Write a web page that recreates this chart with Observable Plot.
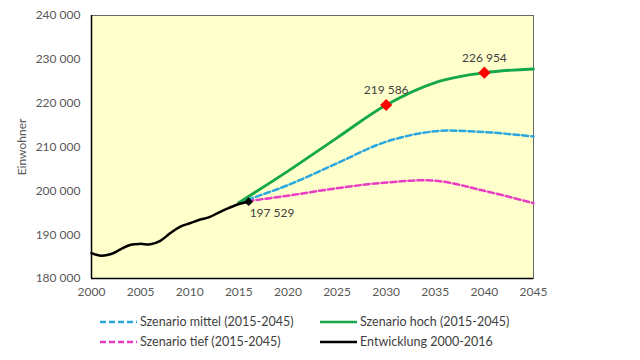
<!DOCTYPE html>
<html><head><meta charset="utf-8">
<script src="https://cdn.jsdelivr.net/npm/d3@7"></script>
<script src="https://cdn.jsdelivr.net/npm/@observablehq/plot@0.6"></script>
<style>
body{margin:0;background:#fff;font-family:Lato,"Open Sans",sans-serif;}
#wrap{position:relative;width:640px;height:360px;}
#legend{position:absolute;left:0;top:310px;width:640px;font-size:12.5px;color:#404040;}
.item{position:absolute;display:flex;align-items:center;white-space:nowrap;}
.item svg{margin-right:3px;}
</style></head><body>
<div id="wrap"><div id="chart"></div><div id="legend"></div></div>
<script>
const histYears = [2000,2001,2002,2003,2004,2005,2006,2007,2008,2009,2010,2011,2012,2013,2014,2015,2016];
const histValues = [185800,185200,185600,186700,187700,187900,187800,188600,190300,191800,192600,193400,194000,195100,196100,197000,197529];
const scenYears = [2015,2020,2025,2030,2035,2040,2045];
const hochValues = [197300,204500,212100,219586,224700,226954,227800];
const mittelValues = [197300,201300,206300,211200,213600,213400,212400];
const tiefValues = [197400,198900,200600,201900,202300,200000,197200];
const markYears = [2030,2040];
const markValues = [219586,226954];
const lastYear = 2016, lastValue = 197529;
const yTicks = [180000,190000,200000,210000,220000,230000,240000];
const xTicks = [2000,2005,2010,2015,2020,2025,2030,2035,2040,2045];
const seriesNames = ["Szenario mittel (2015-2045)","Szenario hoch (2015-2045)","Szenario tief (2015-2045)","Entwicklung 2000-2016"];
const seriesColors = ["#2AA7DE","#14A84A","#E93CC4","#000000"];
const seriesDash = ["6,3",null,"6,3",null];

const fmt = d => d3.format(",")(d).replace(/,/g," ");
const hist = histYears.map((x,i)=>({x,y:histValues[i]}));
const mk = arr => scenYears.map((x,i)=>({x,y:arr[i]}));
const marks = markYears.map((x,i)=>({x,y:markValues[i]}));

const chart = Plot.plot({
  width:640, height:300,
  marginLeft:91, marginRight:107, marginTop:15, marginBottom:22,
  style:{fontFamily:"Lato, 'Open Sans', sans-serif", fontSize:"12px", color:"#595959", background:"transparent"},
  x:{domain:[2000,2045], ticks:xTicks, tickFormat:d=>String(d), tickSize:0, tickPadding:9, label:null},
  y:{domain:[180000,240000], ticks:yTicks, tickFormat:fmt, tickSize:0, tickPadding:11, label:"Einwohner", labelAnchor:"center", labelArrow:"none", labelOffset:74},
  marks:[
    Plot.frame({fill:"#FFFFCC", stroke:"#666", strokeWidth:1}),
    Plot.ruleX([2000],{stroke:"#000",strokeWidth:1.5}),
    Plot.ruleY([180000],{stroke:"#000",strokeWidth:1.5}),
    Plot.line(mk(tiefValues),{x:"x",y:"y",stroke:seriesColors[2],strokeWidth:2.5,strokeDasharray:"6,3",curve:"catmull-rom"}),
    Plot.line(mk(mittelValues),{x:"x",y:"y",stroke:seriesColors[0],strokeWidth:2.5,strokeDasharray:"6,3",curve:"catmull-rom"}),
    Plot.line(mk(hochValues),{x:"x",y:"y",stroke:seriesColors[1],strokeWidth:2.8,curve:"catmull-rom"}),
    Plot.line(hist,{x:"x",y:"y",stroke:"#000",strokeWidth:2.5,curve:"catmull-rom"}),
    Plot.dot(marks,{x:"x",y:"y",symbol:"diamond2",r:5.5,fill:"#FF0000",stroke:"none"}),
    Plot.dot([{x:lastYear,y:lastValue}],{x:"x",y:"y",symbol:"diamond2",r:4,fill:"#000",stroke:"none"}),
    Plot.text(marks,{x:"x",y:"y",text:d=>fmt(d.y),dy:-15,fill:"#404040",fontSize:12}),
    Plot.text([{x:lastYear,y:lastValue}],{x:"x",y:"y",text:d=>fmt(d.y),dx:1,dy:11,textAnchor:"start",fill:"#404040",fontSize:12})
  ]
});
document.getElementById("chart").appendChild(chart);

const pos = [[100,12],[320,12],[100,32],[320,32]];
const leg = document.getElementById("legend");
seriesNames.forEach((n,i)=>{
  const d = document.createElement("div");
  d.className="item";
  d.style.left=pos[i][0]+"px"; d.style.top=(pos[i][1]-8)+"px";
  const dash = seriesDash[i] ? `stroke-dasharray="${seriesDash[i]}"` : "";
  d.innerHTML = `<svg width="37" height="6"><line x1="0" y1="3" x2="37" y2="3" stroke="${seriesColors[i]}" stroke-width="2.5" ${dash}/></svg><span>${n}</span>`;
  leg.appendChild(d);
});
</script></body></html>
